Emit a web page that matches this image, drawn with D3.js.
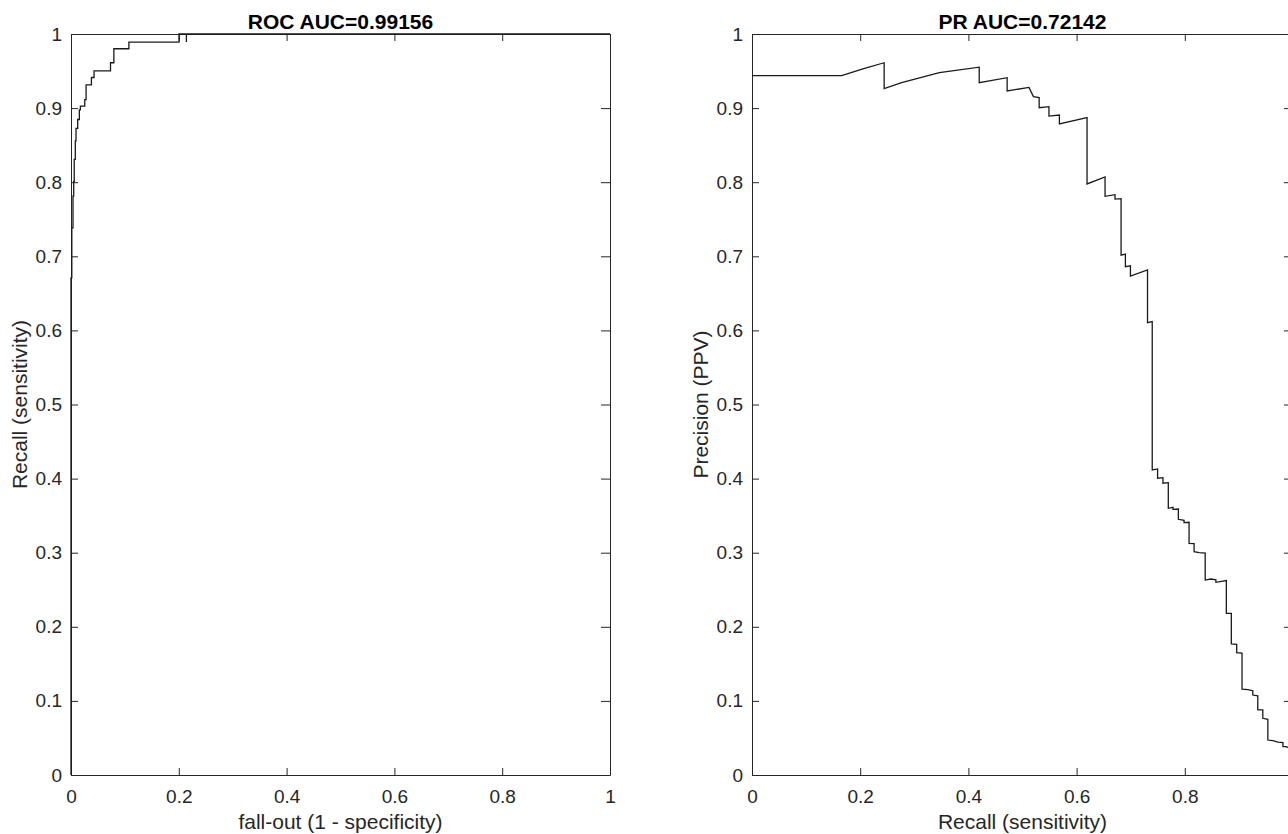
<!DOCTYPE html>
<html>
<head>
<meta charset="utf-8">
<script src="https://cdn.jsdelivr.net/npm/d3@7"></script>
<style>
  body { margin: 0; background: #fff; }
  svg { display: block; font-family: "Liberation Sans", Arial, sans-serif; }
  .tick text { font-size: 19px; fill: #262626; }
  .domain, .tick line { stroke: #262626; }
</style>
</head>
<body>
<svg id="chart" width="1288" height="834"></svg>
<script>
// ROC curve (fall-out vs recall)
const rocFpr = [0, 0, 0.0015, 0.0015, 0.0037, 0.0037, 0.005, 0.005, 0.006, 0.006,
  0.008, 0.008, 0.0093, 0.0093, 0.0124, 0.0124, 0.0155, 0.0155, 0.0174, 0.0174,
  0.0255, 0.0255, 0.028, 0.028, 0.0379, 0.0379, 0.0428, 0.0428, 0.0733, 0.0733,
  0.0795, 0.0795, 0.1074, 0.1074, 0.2005, 0.2005, 0.2141, 0.2141, 0.2141, 1];
const rocTpr = [0, 0.671, 0.671, 0.7384, 0.7384, 0.7812, 0.7812, 0.8011, 0.8011, 0.8309,
  0.8309, 0.8558, 0.8558, 0.8727, 0.8727, 0.8846, 0.8846, 0.8976, 0.8976, 0.9026,
  0.9026, 0.9115, 0.9115, 0.9314, 0.9314, 0.9413, 0.9413, 0.9503, 0.9503, 0.9612,
  0.9612, 0.9801, 0.9801, 0.9891, 0.9891, 1, 1, 0.9891, 1, 1];

// PR curve (recall vs precision)
const prRecall = [0, 0.1657, 0.205, 0.2443, 0.2443, 0.2766, 0.3463, 0.420, 0.420, 0.4716,
  0.4716, 0.512, 0.5202, 0.5308, 0.5308, 0.5489, 0.5489, 0.5682, 0.5682, 0.6193,
  0.6193, 0.6526, 0.6526, 0.671, 0.671, 0.6822, 0.6822, 0.6902, 0.6902, 0.6995,
  0.6995, 0.7311, 0.7311, 0.7398, 0.7398, 0.7497, 0.7497, 0.7596, 0.7596, 0.7695,
  0.7695, 0.7782, 0.7782, 0.7881, 0.7881, 0.7986, 0.7986, 0.8079, 0.8079, 0.8172,
  0.8172, 0.8265, 0.8377, 0.8377, 0.8482, 0.8575, 0.8575, 0.8768, 0.8768, 0.8860,
  0.8860, 0.8959, 0.8959, 0.9058, 0.9058, 0.9164, 0.9257, 0.9257, 0.9349, 0.9349,
  0.9442, 0.9442, 0.9535, 0.9535, 0.9628, 0.9721, 0.9814, 0.9814, 0.9876, 0.9938,
  0.9938, 1.0];
const prPrecision = [0.9437, 0.9437, 0.9528, 0.9612, 0.9264, 0.9344, 0.9478, 0.9552, 0.9344, 0.9410,
  0.9231, 0.9280, 0.9155, 0.9141, 0.9005, 0.9019, 0.8893, 0.8906, 0.8786, 0.8871,
  0.7976, 0.8070, 0.7810, 0.7832, 0.7772, 0.7777, 0.7016, 0.7031, 0.6860, 0.6872,
  0.6734, 0.6815, 0.6104, 0.6118, 0.4116, 0.4130, 0.4005, 0.4013, 0.3937, 0.3945,
  0.3599, 0.3613, 0.3585, 0.3590, 0.3451, 0.3436, 0.3406, 0.3411, 0.3126, 0.3122,
  0.3014, 0.3000, 0.2993, 0.2631, 0.2645, 0.2635, 0.2600, 0.2625, 0.2181, 0.2181,
  0.1768, 0.1764, 0.1651, 0.1645, 0.1158, 0.1153, 0.1138, 0.1079, 0.1068, 0.0878,
  0.0878, 0.0765, 0.0751, 0.0472, 0.0463, 0.0445, 0.0436, 0.0382, 0.0382, 0.0359,
  0.0292, 0.0238];

const xTicks = [0, 0.2, 0.4, 0.6, 0.8, 1];
const yTicks = [0, 0.1, 0.2, 0.3, 0.4, 0.5, 0.6, 0.7, 0.8, 0.9, 1];

const rocTitle = "ROC AUC=0.99156";
const prTitle = "PR AUC=0.72142";

const svg = d3.select("#chart");
const pageWidth = +svg.attr("width");
const plotTop = 34, plotBottom = 775;
const fmt = d3.format("~g");

function drawPanel(left, right, xs, ys, title, xLabel, yLabel) {
  const x = d3.scaleLinear().domain([0, 1]).range([left, right]);
  const y = d3.scaleLinear().domain([0, 1]).range([plotBottom, plotTop]);
  const g = svg.append("g");

  // labels that would fall past the page edge are left out, like in the original
  g.append("g")
    .attr("transform", `translate(0,${plotBottom})`)
    .call(d3.axisBottom(x).tickValues(xTicks)
      .tickFormat(d => x(d) > pageWidth - 4 ? "" : fmt(d))
      .tickSizeInner(-7).tickSizeOuter(0).tickPadding(15));
  g.append("g")
    .attr("transform", `translate(0,${plotTop})`)
    .call(d3.axisTop(x).tickValues(xTicks).tickFormat("").tickSizeInner(-7).tickSizeOuter(0));
  g.append("g")
    .attr("transform", `translate(${left},0)`)
    .call(d3.axisLeft(y).tickValues(yTicks).tickFormat(fmt).tickSizeInner(-7).tickSizeOuter(0).tickPadding(9));
  g.append("g")
    .attr("transform", `translate(${right},0)`)
    .call(d3.axisRight(y).tickValues(yTicks).tickFormat("").tickSizeInner(-9).tickSizeOuter(0));

  const line = d3.line()
    .x(i => x(xs[i]))
    .y(i => y(ys[i]));

  g.append("path")
    .attr("d", line(d3.range(xs.length)))
    .attr("fill", "none")
    .attr("stroke", "#1a1a1a")
    .attr("stroke-width", 1.3);

  g.append("text")
    .attr("x", (left + right) / 2)
    .attr("y", 29)
    .attr("text-anchor", "middle")
    .attr("font-size", 21)
    .attr("font-weight", "bold")
    .attr("fill", "#000")
    .text(title);

  g.append("text")
    .attr("x", (left + right) / 2)
    .attr("y", 829)
    .attr("text-anchor", "middle")
    .attr("font-size", 21)
    .attr("fill", "#262626")
    .text(xLabel);

  g.append("text")
    .attr("transform", `translate(${left - 44},${(plotTop + plotBottom) / 2}) rotate(-90)`)
    .attr("text-anchor", "middle")
    .attr("font-size", 21)
    .attr("fill", "#262626")
    .text(yLabel);
}

drawPanel(71, 610, rocFpr, rocTpr, rocTitle, "fall-out (1 - specificity)", "Recall (sensitivity)");
// the right panel runs past the page edge, as in the original export
drawPanel(752, 1293, prRecall, prPrecision, prTitle, "Recall (sensitivity)", "Precision (PPV)");
</script>
</body>
</html>
